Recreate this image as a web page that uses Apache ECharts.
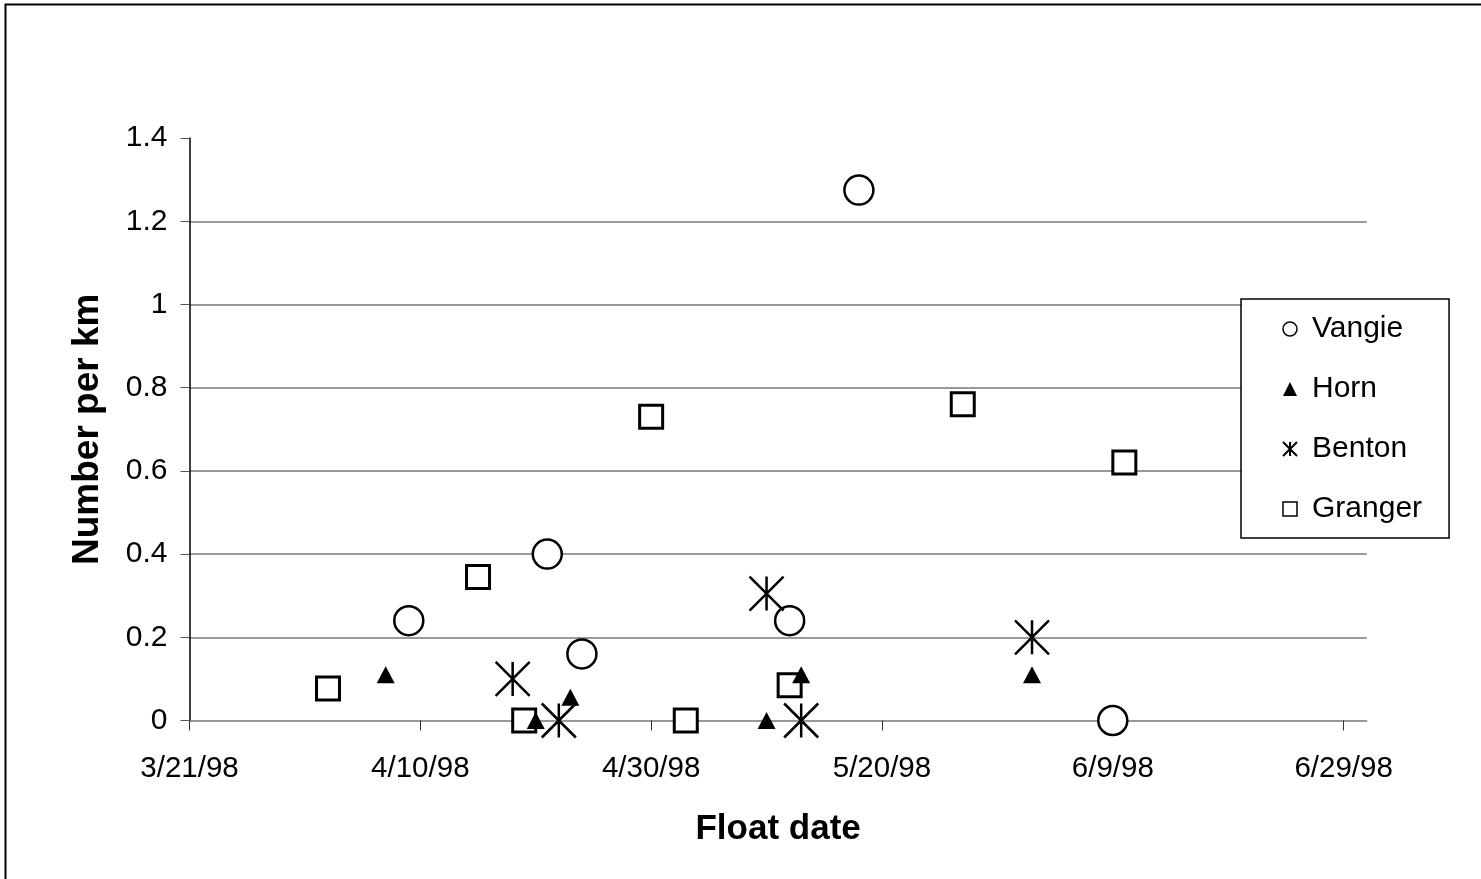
<!DOCTYPE html>
<html>
<head>
<meta charset="utf-8">
<script src="https://cdn.jsdelivr.net/npm/echarts@6/dist/echarts.min.js"></script>
<style>
  html, body { margin: 0; padding: 0; background: #fff; }
  #chart { width: 1481px; height: 879px; }
</style>
</head>
<body>
<div id="chart"></div>
<script>
// Float survey results: number per km by float date, four reaches
const baseDate = '3/21/98';          // start of the date axis
const tickDays = [0, 20, 40, 60, 80, 100];

const vangieDates = ['4/9/98', '4/21/98', '4/24/98', '5/12/98', '5/18/98', '6/9/98'];
const vangieValues = [0.24, 0.40, 0.16, 0.24, 1.275, 0];

const hornDates = ['4/7/98', '4/20/98', '4/23/98', '5/10/98', '5/13/98', '6/2/98'];
const hornValues = [0.11, 0, 0.056, 0, 0.11, 0.11];

const bentonDates = ['4/18/98', '4/22/98', '5/10/98', '5/13/98', '6/2/98'];
const bentonValues = [0.10, 0, 0.305, 0, 0.20];

const grangerDates = ['4/2/98', '4/15/98', '4/19/98', '4/30/98', '5/3/98', '5/12/98', '5/27/98', '6/10/98'];
const grangerValues = [0.077, 0.345, 0, 0.73, 0, 0.085, 0.76, 0.62];

const DAY = 86400000;
function parseDate(s) {
  const [m, d, y] = s.split('/').map(Number);
  return Date.UTC(1900 + y, m - 1, d);
}
const base = parseDate(baseDate);
function dayOffset(s) { return Math.round((parseDate(s) - base) / DAY); }
function formatDay(v) {
  const dt = new Date(base + v * DAY);
  const yy = String(dt.getUTCFullYear() % 100).padStart(2, '0');
  return (dt.getUTCMonth() + 1) + '/' + dt.getUTCDate() + '/' + yy;
}
function pairs(dates, values) { return dates.map((d, i) => [dayOffset(d), values[i]]); }

const FONT = '"Liberation Sans", Arial, sans-serif';
const ASTERISK = 'path://M0,0L10,10M10,0L0,10M5,0L5,10';

const chart = echarts.init(document.getElementById('chart'), null, { renderer: 'canvas' });

chart.setOption({
  animation: false,
  backgroundColor: '#fff',
  textStyle: { fontFamily: FONT, color: '#000' },
  graphic: [{
    type: 'rect',
    shape: { x: 5.5, y: 4.5, width: 1500, height: 900 },
    style: { fill: 'none', stroke: '#000', lineWidth: 2 },
    z: 100
  }],
  grid: { left: 189.5, right: 114.3, top: 138.1, bottom: 158.5 },
  xAxis: {
    type: 'value',
    min: 0,
    max: 102,
    interval: 20,
    name: 'Float date',
    nameLocation: 'middle',
    nameGap: 91,
    nameTextStyle: { fontFamily: FONT, fontSize: 35, fontWeight: 'bold', color: '#000' },
    axisLine: { show: true, onZero: false, lineStyle: { color: '#777', width: 1.5 } },
    axisTick: { show: true, inside: false, length: 10, customValues: tickDays, lineStyle: { color: '#333', width: 1 } },
    axisLabel: {
      customValues: tickDays,
      margin: 33,
      fontFamily: FONT, fontSize: 29.5, color: '#000',
      formatter: v => formatDay(v)
    },
    splitLine: { show: false }
  },
  yAxis: {
    type: 'value',
    min: 0,
    max: 1.4,
    interval: 0.2,
    name: 'Number per km',
    nameLocation: 'middle',
    nameRotate: 90,
    nameGap: 83,
    nameTextStyle: { fontFamily: FONT, fontSize: 37, fontWeight: 'bold', color: '#000' },
    axisLine: { show: true, lineStyle: { color: '#000', width: 1.5 } },
    axisTick: { show: true, length: 9, lineStyle: { color: '#555', width: 1 } },
    axisLabel: { margin: 22, fontFamily: FONT, fontSize: 30, color: '#000' },
    splitLine: { show: true, showMinLine: false, showMaxLine: false, lineStyle: { color: '#777', width: 1.5 } }
  },
  legend: {
    orient: 'vertical',
    left: 1241,
    top: 299,
    padding: [15, 27, 14, 41],
    itemWidth: 14,
    itemHeight: 14,
    itemGap: 30,
    borderColor: '#000',
    borderWidth: 1.5,
    borderRadius: 0,
    backgroundColor: '#fff',
    textStyle: { fontFamily: FONT, fontSize: 30, color: '#000', lineHeight: 30, padding: [0, 0, 0, 10] },
    data: [
      { name: 'Vangie', icon: 'circle', itemStyle: { color: '#fff', borderColor: '#000', borderWidth: 1.5 } },
      { name: 'Horn', icon: 'triangle', itemStyle: { color: '#000', borderWidth: 0 } },
      { name: 'Benton', icon: ASTERISK, itemStyle: { color: 'transparent', borderColor: '#000', borderWidth: 2 } },
      { name: 'Granger', icon: 'rect', itemStyle: { color: '#fff', borderColor: '#000', borderWidth: 1.5 } }
    ]
  },
  series: [
    {
      name: 'Vangie', type: 'scatter', z: 2,
      symbol: 'circle', symbolSize: 29,
      itemStyle: { color: '#fff', borderColor: '#000', borderWidth: 2.5, opacity: 1 },
      data: pairs(vangieDates, vangieValues)
    },
    {
      name: 'Horn', type: 'scatter', z: 4,
      symbol: 'triangle', symbolSize: [18, 17],
      itemStyle: { color: '#000', borderWidth: 0, opacity: 1 },
      data: pairs(hornDates, hornValues)
    },
    {
      name: 'Benton', type: 'scatter', z: 5,
      symbol: ASTERISK, symbolSize: 34,
      itemStyle: { color: 'transparent', borderColor: '#000', borderWidth: 2.5, opacity: 1 },
      data: pairs(bentonDates, bentonValues)
    },
    {
      name: 'Granger', type: 'scatter', z: 3,
      symbol: 'rect', symbolSize: 23,
      itemStyle: { color: '#fff', borderColor: '#000', borderWidth: 3, opacity: 1 },
      data: pairs(grangerDates, grangerValues)
    }
  ]
});
</script>
</body>
</html>
